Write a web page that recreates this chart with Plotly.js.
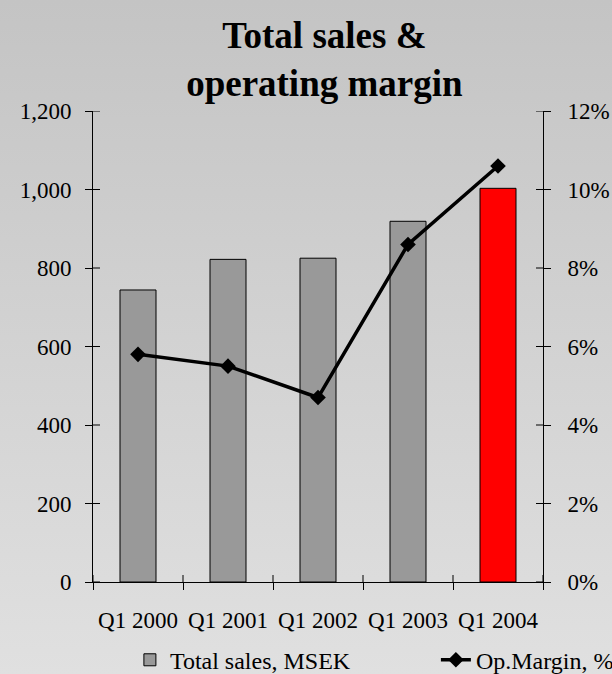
<!DOCTYPE html>
<html>
<head>
<meta charset="utf-8">
<script src="https://cdn.plot.ly/plotly-3.0.1.min.js"></script>
<style>
  html, body { margin: 0; padding: 0; }
  #chart { width: 612px; height: 674px; background: linear-gradient(to bottom, #c4c4c4 0%, #e0e0e0 100%); }
</style>
</head>
<body>
<div id="chart"></div>
<script>
const categories = ["Q1 2000", "Q1 2001", "Q1 2002", "Q1 2003", "Q1 2004"];
const totalSales = [744, 822, 825, 919, 1003];
const opMargin = [5.8, 5.5, 4.7, 8.6, 10.6];
const barColors = ["#999999", "#999999", "#999999", "#999999", "#ff0000"];
const salesTicks = [0, 200, 400, 600, 800, 1000, 1200];
const salesTickText = ["0", "200", "400", "600", "800", "1,000", "1,200"];
const marginTicks = [0, 2, 4, 6, 8, 10, 12];
const marginTickText = ["0%", "2%", "4%", "6%", "8%", "10%", "12%"];

const serif = "Liberation Serif, Times New Roman, serif";

const traces = [
  {
    type: "bar",
    name: "Total sales, MSEK",
    x: categories,
    y: totalSales,
    marker: { color: barColors, line: { color: "#000", width: 1 } },
    xaxis: "x",
    yaxis: "y",
    legend: "legend"
  },
  {
    type: "scatter",
    mode: "lines+markers",
    name: "Op.Margin, %",
    x: categories,
    y: opMargin,
    line: { color: "#000", width: 3.5 },
    marker: { symbol: "diamond", size: 12, color: "#000" },
    xaxis: "x",
    yaxis: "y2",
    legend: "legend2"
  }
];

// inner halves of the crossing tick marks (Plotly only draws one side)
const TL = 7;
const tickShapes = [];
salesTicks.forEach(v => tickShapes.push({
  type: "line", xref: "paper", yref: "y", xsizemode: "pixel", xanchor: 0,
  x0: 0, x1: TL, y0: v, y1: v, line: { color: "#000", width: 1 }
}));
marginTicks.forEach(v => tickShapes.push({
  type: "line", xref: "paper", yref: "y2", xsizemode: "pixel", xanchor: 1,
  x0: -TL, x1: 0, y0: v, y1: v, line: { color: "#000", width: 1 }
}));
for (let i = 0; i <= categories.length; i++) {
  const b = i - 0.5;
  tickShapes.push({
    type: "line", xref: "x", yref: "paper", ysizemode: "pixel", yanchor: 0,
    x0: b, x1: b, y0: 0, y1: TL, line: { color: "#000", width: 1 }
  });
}

const tickStyle = { ticklen: TL, tickcolor: "#000", tickwidth: 1 };

const layout = {
  width: 612,
  height: 674,
  paper_bgcolor: "rgba(0,0,0,0)",
  plot_bgcolor: "rgba(0,0,0,0)",
  margin: { l: 93, r: 69, t: 111, b: 92, autoexpand: false },
  font: { family: serif, size: 23, color: "#000" },
  title: {
    text: "<b>Total sales &amp;<br>operating margin</b>",
    font: { family: serif, size: 37, color: "#000" },
    x: 0.53, xanchor: "center",
    y: 0.929, yanchor: "top"
  },
  bargap: 0.6,
  showlegend: true,
  legend: {
    xref: "paper", yref: "paper",
    x: 0.082, xanchor: "left",
    y: -0.166, yanchor: "middle",
    font: { family: serif, size: 24, color: "#000" },
    bgcolor: "rgba(0,0,0,0)"
  },
  legend2: {
    xref: "paper", yref: "paper",
    x: 0.762, xanchor: "left",
    y: -0.166, yanchor: "middle",
    font: { family: serif, size: 24, color: "#000" },
    bgcolor: "rgba(0,0,0,0)"
  },
  shapes: tickShapes,
  xaxis: Object.assign({
    type: "category",
    categoryarray: categories,
    categoryorder: "array",
    range: [-0.5, 4.5],
    showline: true, linecolor: "#000", linewidth: 1,
    ticks: "outside",
    tickson: "boundaries",
    showgrid: false, zeroline: false,
    ticklabelstandoff: 17,
    automargin: false
  }, tickStyle),
  yaxis: Object.assign({
    range: [0, 1200],
    tickmode: "array",
    tickvals: salesTicks,
    ticktext: salesTickText,
    showline: true, linecolor: "#000", linewidth: 1,
    ticks: "outside",
    showgrid: false, zeroline: false,
    ticklabelstandoff: 9,
    automargin: false
  }, tickStyle),
  yaxis2: Object.assign({
    overlaying: "y",
    side: "right",
    anchor: "x",
    range: [0, 12],
    tickmode: "array",
    tickvals: marginTicks,
    ticktext: marginTickText,
    showline: true, linecolor: "#000", linewidth: 1,
    ticks: "outside",
    showgrid: false, zeroline: false,
    ticklabelstandoff: 12,
    automargin: false
  }, tickStyle)
};

Plotly.newPlot("chart", traces, layout, { displayModeBar: false, staticPlot: true });
</script>
</body>
</html>
